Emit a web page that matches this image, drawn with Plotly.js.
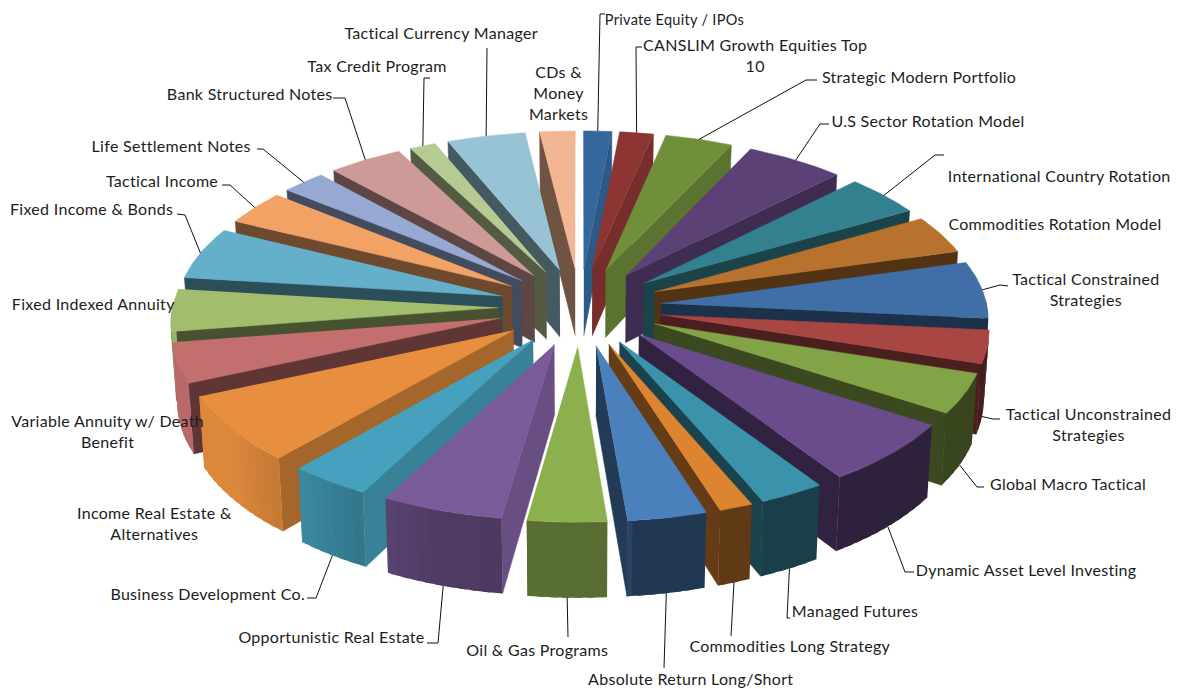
<!DOCTYPE html>
<html>
<head>
<meta charset="utf-8">
<script src="https://cdn.plot.ly/plotly-3.0.1.min.js"></script>
<style>
html,body{margin:0;padding:0;background:#fff}
#chart{width:1178px;height:689px}
#chart .annotation-text{letter-spacing:.3px}
</style>
</head>
<body>
<div id="chart"></div>
<script>
// Allocation strategies, clockwise from twelve o'clock
const categories = [
  "Private Equity / IPOs", "CANSLIM Growth Equities Top<br>10", "Strategic Modern Portfolio",
  "U.S Sector Rotation Model", "International Country Rotation", "Commodities Rotation Model",
  "Tactical Constrained<br>Strategies", "Tactical Unconstrained<br>Strategies", "Global Macro Tactical",
  "Dynamic Asset Level Investing", "Managed Futures", "Commodities Long Strategy",
  "Absolute Return Long/Short", "Oil &amp; Gas Programs", "Opportunistic Real Estate",
  "Business Development Co.", "Income Real Estate &amp;<br>Alternatives", "Variable Annuity w/ Death<br>Benefit",
  "Fixed Indexed Annuity", "Fixed Income &amp; Bonds", "Tactical Income", "Life Settlement Notes",
  "Bank Structured Notes", "Tax Credit Program", "Tactical Currency Manager", "CDs &amp;<br>Money<br>Markets"
];
const allocation = [1.5, 1.8, 3.6, 5.3, 4.2, 3.9, 5.8, 3.4, 4.1, 6.4, 2.9, 1.5, 3.5, 3.5, 5.4, 3.6, 6.9, 4.1, 4.3, 5.3, 3.5, 2.4, 4.0, 1.4, 4.2, 1.9];
const sliceColors = [
  "#34679b", "#8c3533", "#6f8f3a", "#5c4177", "#33818f", "#b9722e",
  "#3f6fa6", "#a84644", "#83a347", "#6a4c8c", "#3a93ab", "#dd8430",
  "#4a80bc", "#8db04f", "#7a5b9a", "#45a1bd", "#e78f3e", "#c36f6d",
  "#a2bd6c", "#64afc9", "#f3a266", "#95a9d2", "#cd9a97", "#b6cb94", "#98c3d5", "#f3b693"
];
// Label centres in axis units
const labelX = [674, 755, 919, 928, 1059, 1055, 1086, 1088, 1068, 1026, 855, 790, 691, 537, 331, 207, 154, 107, 93, 91, 162, 171, 249, 377, 441, 558];
const labelY = [19, 55, 76, 120, 175, 223, 289, 424, 483, 569, 610, 645, 678, 649, 636, 593, 523, 431, 303, 208, 180, 145, 93, 65, 32, 92];
const labelSizes = [14.5, 16, 16, 16, 16, 16, 16, 16, 16, 16, 16, 16, 16, 16, 16, 16, 16, 16, 16, 16, 16, 16, 16, 16, 16, 16];
// Label-side elbow of each leader; null where a label sits beside its slice
const leaderElbows = [
  [[605,14],[600,14]], [[642,47],[636,47]], [[817,80],[806,80]], [[829,124],[820,124]], [[944,155],[935,155]], null,
  [[1008,286],[1000,285]], [[1000,419],[993,419]], [[984,487],[977,487]], [[914,572],[905,572]], [[790,618],[787,618]], [[731,636]],
  [[664,668]], [[568,637]], [[427,643],[438,643]], [[307,598],[316,598]], null, null,
  null, [[177,214],[185,215]], [[222,185],[230,185]], [[257,149],[263,149]], [[333,98],[345,98]], [[430,78],[424,78]], [[487,48]], null
];

// Projection of the tilted disc
const cx = 580, cy = 307, radiusX = 326, radiusY = 155, persp = 0.08, burst = 0.25, depth = 68, footShrink = 0.987;
const rad = d => d * Math.PI / 180;
const scaleAt = Y => 1 / (1 - persp * Y);
const topPoint = (X, Y) => [cx + radiusX * X * scaleAt(Y), cy + radiusY * Y * scaleAt(Y)];
const footPoint = (X, Y) => {
  const p = topPoint(X, Y);
  return [cx + (p[0] - cx) * footShrink, p[1] + depth * scaleAt(Y)];
};

function lerpTable(table, v) {
  if (v <= table[0][0]) return table[0][1];
  for (let i = 1; i < table.length; i++) {
    if (v <= table[i][0]) {
      const t = (v - table[i - 1][0]) / (table[i][0] - table[i - 1][0]);
      return table[i - 1][1] + t * (table[i][1] - table[i - 1][1]);
    }
  }
  return table[table.length - 1][1];
}
// Brightness of the side faces by the compass direction they look towards
const radialShade = [[90, 0.88], [120, 0.8], [135, 0.68], [150, 0.52], [165, 0.44], [270, 0.46]];
const outerShade = [[90, 0.42], [174.5, 0.44], [176, 0.62], [198, 0.64], [215, 0.8], [233, 0.95], [270, 0.95]];

function dim(hex, k) {
  const n = parseInt(hex.slice(1), 16);
  const c = [n >> 16, (n >> 8) & 255, n & 255].map(v => Math.round(v * k));
  return `rgb(${c[0]},${c[1]},${c[2]})`;
}
function face(points, color, stroke) {
  return {
    type: "scatter", mode: "lines", fill: "toself", fillcolor: color,
    x: points.map(p => p[0]), y: points.map(p => p[1]),
    line: { color: color, width: stroke }, hoverinfo: "skip", showlegend: false
  };
}

const total = allocation.reduce((a, b) => a + b, 0);
let running = 0;
const slices = allocation.map((v, i) => {
  const start = running / total * 360;
  running += v;
  const end = running / total * 360;
  const mid = (start + end) / 2;
  return { i, start, end, mid, ox: burst * Math.sin(rad(mid)), oy: -burst * Math.cos(rad(mid)) };
});

const rimXY = (s, a) => [s.ox + Math.sin(rad(a)), s.oy - Math.cos(rad(a))];
const traces = [];

// Painter's order: rear slices first
slices.slice().sort((a, b) => a.oy - b.oy).forEach(s => {
  const base = sliceColors[s.i];
  const apexTop = topPoint(s.ox, s.oy), apexFoot = footPoint(s.ox, s.oy);

  [[s.start, s.start - 90], [s.end, s.end + 90]].forEach(([edge, normal]) => {
    if (Math.cos(rad(normal)) >= 0) return;
    const [X, Y] = rimXY(s, edge);
    const n = ((normal % 360) + 360) % 360;
    traces.push(face([apexTop, topPoint(X, Y), footPoint(X, Y), apexFoot], dim(base, lerpTable(radialShade, n)), 0.5));
  });

  // Outer wall as overlapping strips so no seam shows between them
  for (let a = s.start; a < s.end - 1e-6; a += 2) {
    const b = Math.min(a + 3.2, s.end), m = Math.min(a + 1, s.end);
    if (Math.cos(rad(m)) >= 0.02) continue;
    const [x1, y1] = rimXY(s, a), [x2, y2] = rimXY(s, b);
    traces.push(face([topPoint(x1, y1), topPoint(x2, y2), footPoint(x2, y2), footPoint(x1, y1)], dim(base, lerpTable(outerShade, m)), 0));
  }

  const top = [apexTop];
  for (let a = s.start; a < s.end; a += 1) top.push(topPoint(...rimXY(s, a)));
  top.push(topPoint(...rimXY(s, s.end)));
  traces.push(face(top, base, 0.5));
});

// Leader lines run from the label elbow to the slice rim at its bisector
slices.forEach(s => {
  const elbow = leaderElbows[s.i];
  if (!elbow) return;
  const [X, Y] = rimXY(s, s.mid);
  const end = Math.cos(rad(s.mid)) < 0 ? footPoint(X, Y) : topPoint(X, Y);
  const pts = elbow.concat([end]);
  traces.push({
    type: "scatter", mode: "lines", x: pts.map(p => p[0]), y: pts.map(p => p[1]),
    line: { color: "#111", width: 1 }, hoverinfo: "skip", showlegend: false
  });
});

const annotations = categories.map((c, i) => ({
  text: c, x: labelX[i], y: labelY[i], xref: "x", yref: "y",
  showarrow: false, xanchor: "center", yanchor: "middle", align: "center",
  font: { family: "Lato, 'Open Sans', sans-serif", size: labelSizes[i], color: "#1c1c1c" }
}));

Plotly.newPlot("chart", traces, {
  width: 1178, height: 689, margin: { l: 0, r: 0, t: 0, b: 0 },
  paper_bgcolor: "#fff", plot_bgcolor: "#fff", showlegend: false,
  xaxis: { range: [0, 1178], visible: false, fixedrange: true },
  yaxis: { range: [689, 0], visible: false, fixedrange: true },
  annotations
}, { staticPlot: true, displayModeBar: false });
</script>
</body>
</html>
